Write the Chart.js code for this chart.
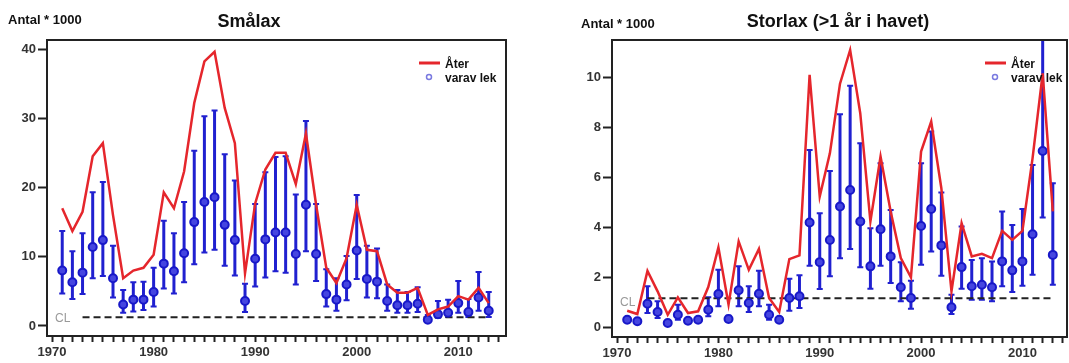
<!DOCTYPE html>
<html>
<head>
<meta charset="utf-8">
<script src="https://cdn.jsdelivr.net/npm/chart.js@4.4.1/dist/chart.umd.min.js"></script>
<style>
  body { margin: 0; background: #fff; overflow: hidden; }
  .panel { position: absolute; top: 0; height: 363px; }
  #p1 { left: 0; width: 535px; }
  #p2 { left: 535px; width: 538px; }
</style>
</head>
<body>
<div class="panel" id="p1"><canvas id="smalax"></canvas></div>
<div class="panel" id="p2"><canvas id="storlax"></canvas></div>
<script>
const years = [1971, 1972, 1973, 1974, 1975, 1976, 1977, 1978, 1979, 1980,
  1981, 1982, 1983, 1984, 1985, 1986, 1987, 1988, 1989, 1990,
  1991, 1992, 1993, 1994, 1995, 1996, 1997, 1998, 1999, 2000,
  2001, 2002, 2003, 2004, 2005, 2006, 2007, 2008, 2009, 2010,
  2011, 2012, 2013];

// Smålax
const smaAter = [17.0, 13.7, 16.5, 24.5, 26.4, 16.0, 6.9, 8.0, 8.4, 10.3,
  19.3, 17.0, 22.3, 32.2, 38.2, 39.6, 31.5, 26.4, 7.6, 17.7,
  22.6, 25.0, 25.0, 20.5, 27.8, 17.5, 8.4, 6.2, 9.8, 17.5,
  11.0, 10.8, 6.0, 4.8, 4.8, 5.5, 1.6, 2.4, 2.8, 4.3,
  3.8, 5.5, 3.3];
const smaLek = [8.0, 6.3, 7.7, 11.4, 12.4, 6.9, 3.1, 3.8, 3.8, 4.9,
  9.0, 7.9, 10.5, 15.0, 17.9, 18.6, 14.6, 12.4, 3.6, 9.7,
  12.5, 13.5, 13.5, 10.4, 17.5, 10.4, 4.6, 3.8, 6.0, 10.9,
  6.8, 6.4, 3.6, 3.0, 3.0, 3.2, 0.9, 1.7, 1.9, 3.3,
  2.0, 4.1, 2.2];
const smaLo = [4.7, 3.9, 4.6, 6.9, 7.2, 4.1, 1.9, 2.1, 2.3, 2.8,
  5.4, 4.7, 6.3, 8.9, 10.6, 11.0, 8.7, 7.3, 2.0, 5.7,
  7.0, 7.9, 7.7, 6.0, 10.8, 6.5, 2.8, 2.2, 3.7, 6.8,
  4.1, 4.0, 2.2, 1.9, 1.9, 2.0, 0.6, 1.2, 1.3, 1.9,
  1.3, 2.2, 1.3];
const smaHi = [13.7, 10.8, 13.4, 19.3, 20.8, 11.6, 5.2, 6.3, 6.4, 8.4,
  15.2, 13.4, 17.9, 25.3, 30.3, 31.1, 24.8, 21.0, 6.1, 17.6,
  22.2, 24.4, 24.5, 19.0, 29.6, 17.6, 8.2, 6.9, 10.1, 18.9,
  11.6, 11.2, 6.0, 5.2, 4.9, 5.6, 1.6, 3.6, 3.8, 6.5,
  3.9, 7.8, 4.9];
const smaCL = 1.25;

// Storlax (>1 år i havet)
const storAter = [0.65, 0.52, 2.25, 1.43, 0.49, 1.19, 0.56, 0.63, 1.6, 3.19,
  0.9, 3.43, 2.29, 3.13, 1.16, 0.6, 2.72, 2.87, 10.1, 5.23,
  6.96, 9.75, 11.1, 8.56, 4.23, 6.83, 4.63, 2.76, 1.99, 7.03,
  8.23, 5.56, 1.43, 4.16, 2.83, 2.93, 2.76, 3.85, 3.49, 3.85,
  6.76, 10.16, 4.63];
const storLek = [0.29, 0.23, 0.93, 0.6, 0.16, 0.49, 0.25, 0.29, 0.69, 1.32,
  0.32, 1.47, 0.96, 1.33, 0.49, 0.29, 1.16, 1.23, 4.19, 2.6,
  3.49, 4.83, 5.49, 4.23, 2.43, 3.92, 2.83, 1.59, 1.16, 4.05,
  4.73, 3.27, 0.79, 2.4, 1.63, 1.69, 1.59, 2.63, 2.27, 2.63,
  3.72, 7.05, 2.89];
const storLo = [0.2, 0.15, 0.56, 0.36, 0.1, 0.29, 0.17, 0.2, 0.43, 0.83,
  0.22, 0.83, 0.6, 0.83, 0.29, 0.2, 0.65, 0.76, 2.45, 1.52,
  2.03, 2.76, 3.13, 2.39, 1.53, 2.45, 1.76, 1.03, 0.73, 2.49,
  3.03, 2.05, 0.52, 1.53, 1.09, 1.09, 1.03, 1.63, 1.4, 1.65,
  2.09, 4.39, 1.69];
const storHi = [0.4, 0.33, 1.63, 1.03, 0.24, 0.89, 0.35, 0.4, 1.19, 2.29,
  0.45, 2.43, 1.63, 2.25, 0.89, 0.4, 1.93, 2.07, 7.09, 4.56,
  6.25, 8.52, 9.67, 7.36, 3.96, 6.56, 4.69, 2.6, 1.85, 6.56,
  7.83, 5.39, 1.29, 4.03, 2.69, 2.76, 2.63, 4.63, 4.09, 4.73,
  6.49, 12.5, 5.76];
const storCL = 1.15;

const FONT = "'Liberation Sans', Arial, sans-serif";
const RED = '#e5262c';
const BLUE = '#2020d0';

// error bars, frame, titles, legend and CL label
const panelDecor = {
  id: 'panelDecor',
  beforeDatasetsDraw(chart) {
    const o = chart.options.plugins.panelDecor;
    const { ctx, chartArea: a, scales: { x, y } } = chart;
    ctx.save();
    ctx.beginPath();
    ctx.rect(a.left, a.top, a.width, a.height);
    ctx.clip();
    ctx.strokeStyle = BLUE;
    o.lo.forEach((lo, i) => {
      const px = x.getPixelForValue(years[i]);
      const y1 = y.getPixelForValue(lo);
      const y2 = y.getPixelForValue(o.hi[i]);
      ctx.lineWidth = 3;
      ctx.beginPath(); ctx.moveTo(px, y1); ctx.lineTo(px, y2); ctx.stroke();
      ctx.lineWidth = 2;
      ctx.beginPath();
      ctx.moveTo(px - 3, y1); ctx.lineTo(px + 3, y1);
      ctx.moveTo(px - 3, y2); ctx.lineTo(px + 3, y2);
      ctx.stroke();
    });
    ctx.restore();
  },
  afterDraw(chart) {
    const o = chart.options.plugins.panelDecor;
    const { ctx, chartArea: a, scales: { y } } = chart;
    ctx.save();
    // box
    ctx.strokeStyle = '#222';
    ctx.lineWidth = 2;
    ctx.strokeRect(a.left, a.top, a.width, a.height);
    // titles
    ctx.fillStyle = '#111';
    ctx.textBaseline = 'middle';
    ctx.textAlign = 'center';
    ctx.font = 'bold 18px ' + FONT;
    ctx.fillText(o.title, o.titleX, 22);
    ctx.textAlign = 'left';
    ctx.font = 'bold 13px ' + FONT;
    ctx.fillText('Antal * 1000', o.unitX, o.unitY);
    // CL
    ctx.fillStyle = '#999';
    ctx.font = '12px ' + FONT;
    ctx.fillText('CL', a.left + 8, y.getPixelForValue(o.cl) + o.clDy);
    // legend
    const lx = a.right - o.legendOff;
    ctx.strokeStyle = RED;
    ctx.lineWidth = 3;
    ctx.beginPath(); ctx.moveTo(lx, 63); ctx.lineTo(lx + 21, 63); ctx.stroke();
    ctx.strokeStyle = '#7a7ae0';
    ctx.lineWidth = 1.5;
    ctx.beginPath(); ctx.arc(lx + 10, 77, 2.5, 0, Math.PI * 2); ctx.stroke();
    ctx.fillStyle = '#111';
    ctx.font = 'bold 12px ' + FONT;
    ctx.textBaseline = 'alphabetic';
    ctx.fillText('Åter', lx + 26, 68);
    ctx.fillText('varav lek', lx + 26, 82);
    ctx.restore();
  }
};

function makePanel(id, p) {
  const tickFont = { family: FONT, size: 13, weight: 'bold' };
  return new Chart(document.getElementById(id), {
    type: 'line',
    data: {
      datasets: [
        {
          label: 'Åter',
          data: years.map((yr, i) => ({ x: yr, y: p.ater[i] })),
          borderColor: RED,
          borderWidth: 2.5,
          pointRadius: 0,
          tension: 0,
          order: 0
        },
        {
          label: 'varav lek',
          data: years.map((yr, i) => ({ x: yr, y: p.lek[i] })),
          showLine: false,
          pointRadius: 4,
          pointBackgroundColor: '#4545e0',
          pointBorderColor: '#1818c8',
          pointBorderWidth: 2,
          order: 1
        },
        {
          label: 'CL',
          data: [{ x: 1973, y: p.cl }, { x: 2013, y: p.cl }],
          borderColor: '#222',
          borderWidth: 2,
          borderDash: [7, 4],
          pointRadius: 0,
          order: 2
        }
      ]
    },
    options: {
      responsive: true,
      maintainAspectRatio: false,
      animation: false,
      layout: { padding: { left: 0, top: 40, right: p.padRight, bottom: 0 } },
      plugins: {
        legend: { display: false },
        tooltip: { enabled: false },
        panelDecor: {
          lo: p.lo, hi: p.hi, cl: p.cl, clDy: p.clDy,
          title: p.title, titleX: p.titleX,
          unitX: p.unitX, unitY: p.unitY, legendOff: p.legendOff
        }
      },
      scales: {
        x: {
          type: 'linear',
          min: 1969.5,
          max: p.xMax,
          afterFit: s => { s.height = p.xHeight; },
          border: { display: true, color: '#222', width: 2 },
          grid: { drawOnChartArea: false, tickLength: 6, tickColor: '#222', tickWidth: 2 },
          ticks: {
            stepSize: 1,
            includeBounds: false,
            autoSkip: false,
            maxRotation: 0,
            padding: 3,
            color: '#333',
            font: tickFont,
            callback: v => (v % 10 === 0 ? String(v) : '')
          }
        },
        y: {
          min: p.yMin,
          max: p.yMax,
          afterFit: s => { s.width = p.yWidth; },
          border: { display: true, color: '#222', width: 2 },
          grid: { drawOnChartArea: false, tickLength: 9, tickColor: '#222', tickWidth: 2 },
          ticks: {
            stepSize: p.yStep,
            includeBounds: false,
            padding: 2,
            color: '#333',
            font: tickFont
          }
        }
      }
    },
    plugins: [panelDecor]
  });
}

makePanel('smalax', {
  ater: smaAter, lek: smaLek, lo: smaLo, hi: smaHi, cl: smaCL, clDy: 1,
  title: 'Smålax', titleX: 249, unitX: 8, unitY: 20, legendOff: 87,
  padRight: 29, xMax: 2014.7, xHeight: 27, yMin: -1.45, yMax: 41.3, yStep: 10, yWidth: 47
});

makePanel('storlax', {
  ater: storAter, lek: storLek, lo: storLo, hi: storHi, cl: storCL, clDy: 4,
  title: 'Storlax (>1 år i havet)', titleX: 303, unitX: 46, unitY: 24, legendOff: 82,
  padRight: 2, xMax: 2014.4, xHeight: 26, yMin: -0.4, yMax: 11.5, yStep: 2, yWidth: 77
});
</script>
</body>
</html>
